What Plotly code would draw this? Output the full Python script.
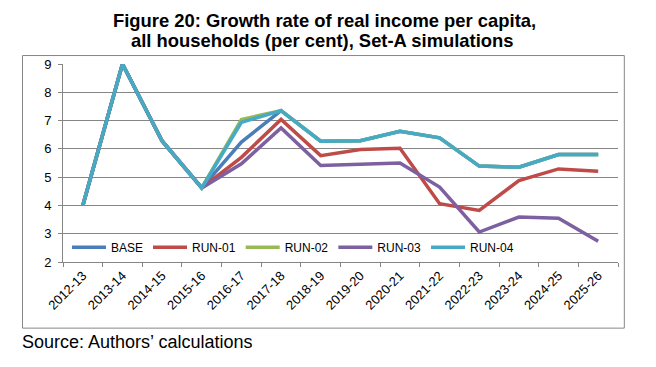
import plotly.graph_objects as go

years = ["2012-13", "2013-14", "2014-15", "2015-16", "2016-17", "2017-18", "2018-19",
         "2019-20", "2020-21", "2021-22", "2022-23", "2023-24", "2024-25", "2025-26"]

base   = [4.0, 9.0, 6.28, 4.62, 6.24, 7.35, 6.27, 6.29, 6.62, 6.39, 5.39, 5.35, 5.80, 5.80]
run_01 = [4.0, 9.0, 6.28, 4.62, 5.70, 7.04, 5.76, 5.98, 6.02, 4.06, 3.82, 4.88, 5.29, 5.21]
run_02 = [4.0, 9.0, 6.28, 4.62, 7.04, 7.35, 6.27, 6.29, 6.62, 6.39, 5.39, 5.35, 5.80, 5.80]
run_03 = [4.0, 9.0, 6.28, 4.62, 5.47, 6.74, 5.41, 5.45, 5.50, 4.65, 3.06, 3.59, 3.55, 2.73]
run_04 = [4.0, 9.0, 6.28, 4.62, 6.94, 7.35, 6.27, 6.29, 6.62, 6.39, 5.39, 5.35, 5.80, 5.80]

series = [("BASE", base, "#4A7EBB"), ("RUN-01", run_01, "#BE4B48"),
          ("RUN-02", run_02, "#98B954"), ("RUN-03", run_03, "#7D60A0"),
          ("RUN-04", run_04, "#46AAC5")]

title_lines = ["Figure 20: Growth rate of real income per capita,",
               "all households (per cent), Set-A simulations"]
source_text = "Source: Authors\u2019 calculations"

FONT = "Liberation Sans, Arial, sans-serif"
GRID = "#868686"

fig = go.Figure()
for name, vals, color in series:
    fig.add_trace(go.Scatter(x=years, y=vals, name=name, mode="lines",
                             line=dict(color=color, width=3.5)))

fig.update_layout(
    width=656, height=367,
    margin=dict(l=63, r=38, t=63.5, b=104.5),
    paper_bgcolor="white", plot_bgcolor="white",
    font=dict(family=FONT, size=12, color="black"),
    showlegend=True,
    legend=dict(orientation="h", x=0.0072, y=0.075, xanchor="left", yanchor="middle",
                bgcolor="rgba(0,0,0,0)", font=dict(size=12, family=FONT),
                itemwidth=34, tracegroupgap=0),
    xaxis=dict(type="category", tickangle=-45, tickson="boundaries",
               ticks="outside", ticklen=4, tickcolor=GRID,
               showline=True, linecolor=GRID, linewidth=1,
               showgrid=False, tickfont=dict(size=13, family=FONT),
               range=[-0.5, 13.5]),
    yaxis=dict(range=[2, 9], dtick=1, ticks="outside", ticklen=4, tickcolor=GRID,
               showline=True, linecolor=GRID, linewidth=1,
               showgrid=True, gridcolor=GRID, gridwidth=1,
               zeroline=False, tickfont=dict(size=13, family=FONT),
               ticklabelstandoff=4),
    shapes=[dict(type="rect", xref="paper", yref="paper",
                 x0=-0.073, x1=1.0114, y0=-0.334, y1=1.0427,
                 line=dict(color=GRID, width=1), layer="below")],
    annotations=[
        dict(text="<b>" + title_lines[0] + "</b>",
             xref="paper", yref="paper", x=(324 - 63) / 555, y=1.2186,
             xanchor="center", yanchor="middle", showarrow=False,
             font=dict(size=18.4, family=FONT, color="black")),
        dict(text="<b>" + title_lines[1] + "</b>",
             xref="paper", yref="paper", x=(322 - 63) / 555, y=1.118,
             xanchor="center", yanchor="middle", showarrow=False,
             font=dict(size=18.4, family=FONT, color="black")),
        dict(text=source_text, xref="paper", yref="paper",
             x=-0.0775, y=-0.4045, xanchor="left", yanchor="middle", showarrow=False,
             font=dict(size=18, family=FONT, color="black")),
    ],
)

fig.write_html("out.html", config={"displayModeBar": False},
               post_script="document.body.style.margin='0';")
